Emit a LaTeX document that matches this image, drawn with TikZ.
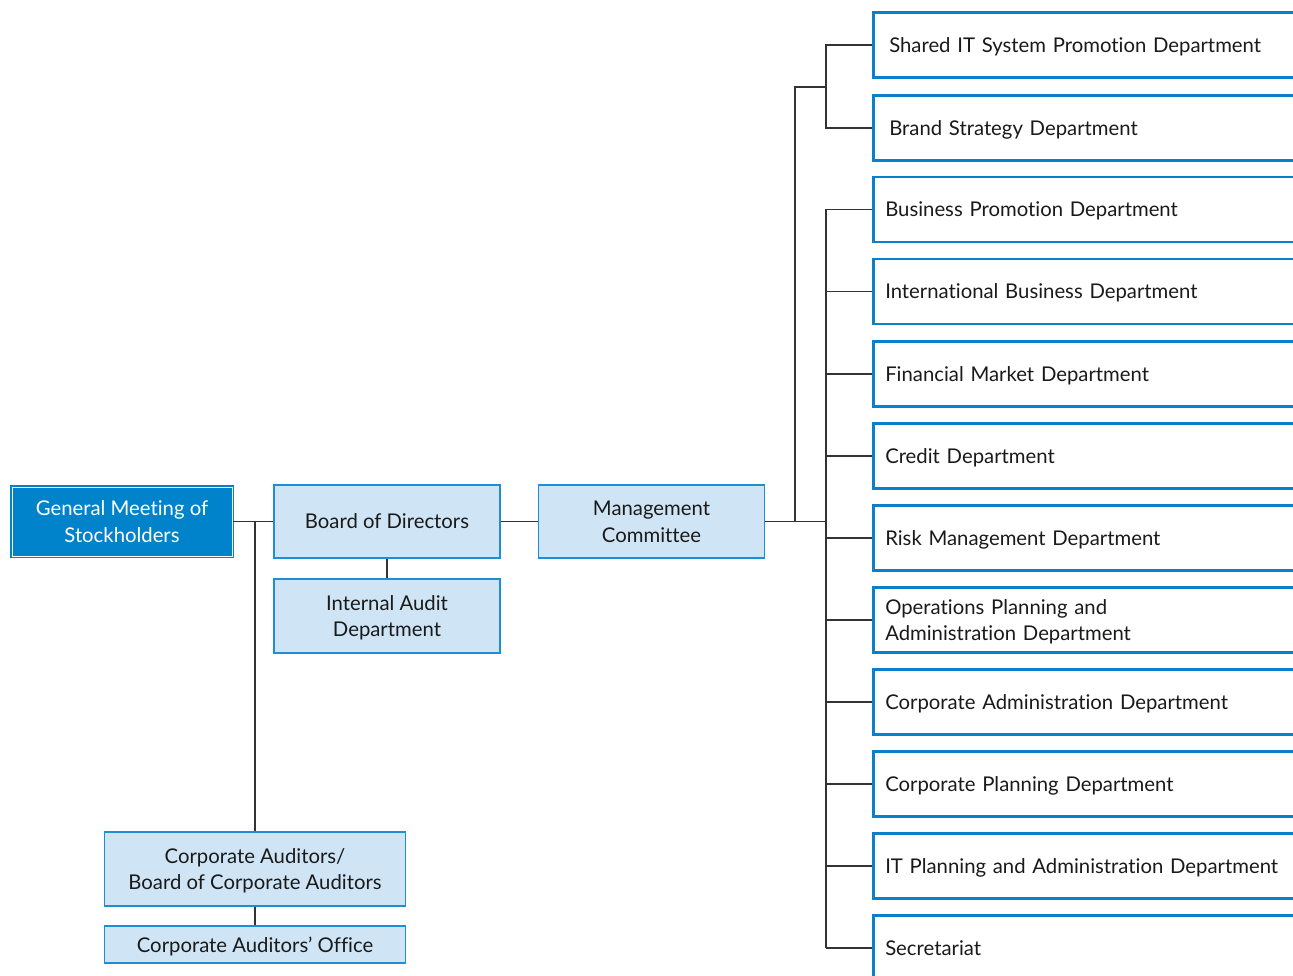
\documentclass[tikz,border=0pt]{standalone}
\usepackage{fontspec}
\setmainfont[Ligatures=NoCommon]{Lato}
\definecolor{boxfill}{HTML}{CFE5F5}
\definecolor{boxline}{HTML}{1E8FD6}
\definecolor{topblue}{HTML}{0083CA}
\definecolor{deptline}{HTML}{0A80CD}
\definecolor{linkgray}{HTML}{333333}
\definecolor{txt}{HTML}{1A1A1A}
\tikzset{
  labelfont/.style={font=\fontsize{20.3}{26.5}\selectfont, text depth=0pt},
  orgbox/.style={draw=boxline, fill=boxfill, line width=1.3pt, align=center,
    inner sep=0pt, text=txt, labelfont},
  topbox/.style={draw=topblue, double=white, double distance=1pt, line width=1.2pt,
    fill=topblue, align=center, inner sep=0pt, text=white, labelfont,
    minimum width=220pt, minimum height=69pt},
  deptbox/.style={draw=deptline, fill=white, line width=2.5pt, anchor=west,
    minimum height=65pt, text width=480pt, align=left, inner xsep=12pt,
    inner ysep=0pt, text=txt, labelfont},
  deptwide/.style={deptbox, inner xsep=16pt},
  twolines/.style={text depth=26.5pt},
  link/.style={draw=linkgray, line width=1.3pt}
}
\begin{document}
\begin{tikzpicture}[x=1pt, y=-1pt]
\useasboundingbox (0,0) rectangle (1293,976);

% top of the hierarchy
\node[topbox] (gm) at (122,521.5) {General Meeting of\\Stockholders};
\node[orgbox, minimum width=226pt, minimum height=73pt] (bod) at (387,521.5) {Board of Directors};
\node[orgbox, minimum width=226pt, minimum height=73pt] (mc) at (651.5,521.5) {Management\\Committee};
\node[orgbox, minimum width=226pt, minimum height=74pt] (iad) at (387,616) {Internal Audit\\Department};
\node[orgbox, minimum width=301pt, minimum height=74pt] (ca) at (255,869) {Corporate Auditors/\\Board of Corporate Auditors};
\node[orgbox, minimum width=301pt, minimum height=37pt] (cao) at (255,944.5) {Corporate Auditors’ Office};

% departments
\node[deptwide] (d1) at (872,45) {Shared IT System Promotion Department};
\node[deptwide] (d2) at (872,128) {Brand Strategy Department};
\node[deptbox] (d3) at (872,209.5) {Business Promotion Department};
\node[deptbox] (d4) at (872,291.5) {International Business Department};
\node[deptbox] (d5) at (872,374) {Financial Market Department};
\node[deptbox] (d6) at (872,456) {Credit Department};
\node[deptbox] (d7) at (872,538) {Risk Management Department};
\node[deptbox, twolines] (d8) at (872,620) {Operations Planning and\\Administration Department};
\node[deptbox] (d9) at (872,702) {Corporate Administration Department};
\node[deptbox] (d10) at (872,784) {Corporate Planning Department};
\node[deptbox] (d11) at (872,866) {IT Planning and Administration Department};
\node[deptbox] (d12) at (872,948) {Secretariat};

% junction points
\coordinate (ja) at (255,521.5);
\coordinate (jb) at (795,521.5);
\coordinate (jc) at (826,521.5);
\coordinate (jd) at (795,87);
\coordinate (je) at (826,87);

% connectors
\draw[link] (gm.east) -- (bod.west);
\draw[link] (ja) -- (ca.north);
\draw[link] (ca.south) -- (cao.north);
\draw[link] (bod.south) -- (iad.north);
\draw[link] (bod.east) -- (mc.west);
\draw[link] (mc.east) -- (jc);
\draw[link] (jb) -- (jd) -- (je);
\draw[link] (d1.west) -| (je) |- (d2.west);
\draw[link] (d3.west -| jc) -- (d12.west -| jc);
\foreach \d in {d3,d4,d5,d6,d7,d8,d9,d10,d11,d12}
  \draw[link] (\d.west) -- (\d.west -| jc);
\end{tikzpicture}
\end{document}
